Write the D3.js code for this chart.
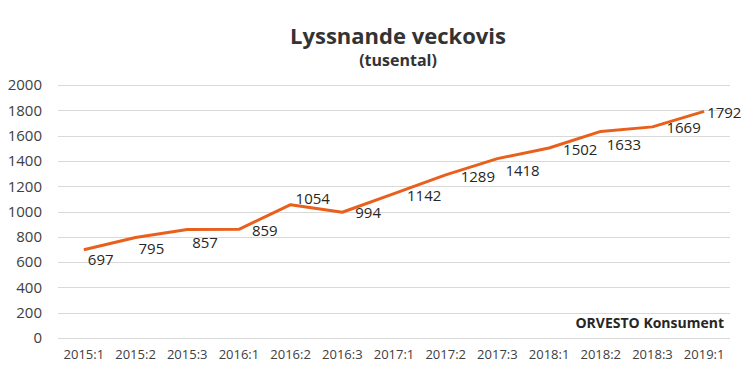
<!DOCTYPE html>
<html>
<head>
<meta charset="utf-8">
<script src="https://cdn.jsdelivr.net/npm/d3@7"></script>
<style>
  body { margin: 0; background: #fff; }
  svg { display: block; }
</style>
</head>
<body>
<div id="chart"></div>
<script>
const periods = ['2015:1', '2015:2', '2015:3', '2016:1', '2016:2', '2016:3', '2017:1', '2017:2', '2017:3', '2018:1', '2018:2', '2018:3', '2019:1']
const listeners = [697, 795, 857, 859, 1054, 994, 1142, 1289, 1418, 1502, 1633, 1669, 1792]
const yTicks = [0, 200, 400, 600, 800, 1000, 1200, 1400, 1600, 1800, 2000]

const width = 750
const height = 384
const margin = { top: 85, right: 20, bottom: 46, left: 58 }
const lineColor = '#e8601c'
const textColor = '#404040'

// label placement, roughly as in the original (right of the point, some pushed down)
const labelNudge = [
  [4, 10], [3, 11], [5, 13], [13, 1], [5, -6], [13, 0], [13, 2],
  [15, 2], [8, 12], [14, 2], [6, 13], [14, 1], [3, 1],
]

const svg = d3.select('#chart')
  .append('svg')
  .attr('width', width)
  .attr('height', height)

const x = d3.scaleBand()
  .domain(periods)
  .range([margin.left, 730])

const y = d3.scaleLinear()
  .domain([0, 2000])
  .range([height - margin.bottom, margin.top])

// gridlines
svg.append('g')
  .selectAll('line')
  .data(yTicks)
  .join('line')
  .attr('x1', margin.left)
  .attr('x2', 730)
  .attr('y1', d => Math.round(y(d)) + 0.5)
  .attr('y2', d => Math.round(y(d)) + 0.5)
  .attr('stroke', '#d9d9d9')
  .attr('stroke-width', 1)

const yAxis = svg.append('g')
  .attr('transform', `translate(${margin.left - 16},0)`)
  .call(d3.axisLeft(y).tickValues(yTicks).tickFormat(d3.format('d')).tickSize(0).tickPadding(0))
yAxis.select('.domain').remove()
yAxis.selectAll('text')
  .attr('fill', textColor)
  .style('font', '15px "Open Sans", sans-serif')

const xAxis = svg.append('g')
  .attr('transform', `translate(0,${height - margin.bottom})`)
  .call(d3.axisBottom(x).tickSize(0).tickPadding(12))
xAxis.select('.domain').remove()
xAxis.selectAll('text')
  .attr('fill', textColor)
  .style('font', '13px "Open Sans", sans-serif')

const cx = d => x(d) + x.bandwidth() / 2

const line = d3.line()
  .x((d, i) => cx(periods[i]))
  .y(d => y(d))

svg.append('path')
  .datum(listeners)
  .attr('d', line)
  .attr('fill', 'none')
  .attr('stroke', lineColor)
  .attr('stroke-width', 3)
  .attr('stroke-linejoin', 'round')

svg.append('g')
  .selectAll('text')
  .data(listeners)
  .join('text')
  .attr('x', (d, i) => cx(periods[i]) + labelNudge[i][0])
  .attr('y', (d, i) => y(d) + labelNudge[i][1])
  .attr('dy', '0.35em')
  .attr('fill', '#262626')
  .style('font', '15px "Open Sans", sans-serif')
  .text(d => d)

svg.append('text')
  .attr('x', 398)
  .attr('y', 44)
  .attr('text-anchor', 'middle')
  .attr('fill', '#333')
  .style('font', 'bold 22px "Open Sans", sans-serif')
  .text('Lyssnande veckovis')

svg.append('text')
  .attr('x', 398)
  .attr('y', 66)
  .attr('text-anchor', 'middle')
  .attr('fill', '#333')
  .style('font', 'bold 16px "Open Sans", sans-serif')
  .text('(tusental)')

svg.append('text')
  .attr('x', 724)
  .attr('y', 328)
  .attr('text-anchor', 'end')
  .attr('fill', '#262626')
  .style('font', 'bold 14px "Open Sans", sans-serif')
  .text('ORVESTO Konsument')
</script>
</body>
</html>
